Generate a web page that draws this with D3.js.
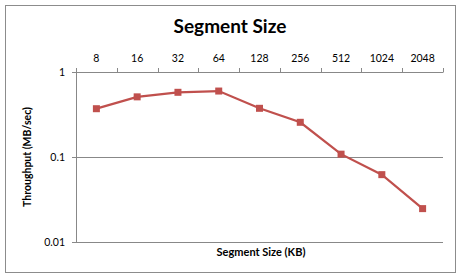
<!DOCTYPE html>
<html>
<head>
<meta charset="utf-8">
<script src="https://cdn.jsdelivr.net/npm/d3@7"></script>
<style>
  body { margin: 0; background: #fff; }
  text { font-family: Lato, "Open Sans", sans-serif; fill: #000; }
</style>
</head>
<body>
<div id="chart"></div>
<script>
// chart data
var sizes = ["8", "16", "32", "64", "128", "256", "512", "1024", "2048"];
var throughput = [0.37, 0.51, 0.577, 0.597, 0.374, 0.256, 0.108, 0.062, 0.0247];
var yTicks = [1, 0.1, 0.01];

var W = 463, H = 279;
var margin = { top: 72, right: 20, bottom: 37, left: 76 },
    width = 443 - margin.left,
    height = 242 - margin.top;

var svg = d3.select("#chart").append("svg")
    .attr("width", W)
    .attr("height", H);

// outer frame
svg.append("rect")
    .attr("x", 5.5).attr("y", 5.5)
    .attr("width", 450).attr("height", 267)
    .attr("fill", "#fff")
    .attr("stroke", "#8c8c8c");

var g = svg.append("g")
    .attr("transform", "translate(" + margin.left + "," + margin.top + ")");

var x = d3.scaleBand()
    .domain(sizes)
    .range([0, width]);

var y = d3.scaleLog()
    .domain([0.01, 1])
    .range([height, 0]);

// horizontal gridlines
g.selectAll(".grid")
    .data(yTicks)
    .enter().append("line")
    .attr("x1", 0).attr("x2", width)
    .attr("y1", d => Math.round(y(d)) + 0.5)
    .attr("y2", d => Math.round(y(d)) + 0.5)
    .attr("stroke", "#888");

// top category axis
var xAxis = g.append("g")
    .call(d3.axisTop(x).tickSize(0).tickPadding(10));
xAxis.select(".domain").remove();
xAxis.selectAll("text")
    .style("font-size", "10.5px")
    .style("font-family", "Lato, 'Open Sans', sans-serif");

// category dividers (tick marks above top line)
var edges = sizes.map(s => x(s)).concat([width]);
g.selectAll(".xtick")
    .data(edges)
    .enter().append("line")
    .attr("x1", d => Math.round(d) + 0.5).attr("x2", d => Math.round(d) + 0.5)
    .attr("y1", 0.5).attr("y2", -4)
    .attr("stroke", "#888");

// left axis
var yAxis = g.append("g")
    .call(d3.axisLeft(y).tickValues(yTicks).tickSize(4).tickPadding(7).tickFormat(d => d));
yAxis.select(".domain")
    .attr("d", "M0.5," + (height + 0.5) + "V0.5")
    .attr("stroke", "#888");
yAxis.selectAll(".tick line").attr("stroke", "#888");
yAxis.selectAll("text")
    .style("font-size", "10.5px")
    .style("font-family", "Lato, 'Open Sans', sans-serif");

// line
var line = d3.line()
    .x((d, i) => x(sizes[i]) + x.bandwidth() / 2)
    .y(d => y(d));

g.append("path")
    .datum(throughput)
    .attr("fill", "none")
    .attr("stroke", "#c0504d")
    .attr("stroke-width", 2.25)
    .attr("d", line);

g.selectAll(".marker")
    .data(throughput)
    .enter().append("rect")
    .attr("x", (d, i) => x(sizes[i]) + x.bandwidth() / 2 - 3.5)
    .attr("y", d => y(d) - 3.5)
    .attr("width", 7)
    .attr("height", 7)
    .attr("fill", "#c0504d");

// Chart Title
svg.append("text")
    .attr("x", 230)
    .attr("y", 33)
    .attr("text-anchor", "middle")
    .style("font-size", "19px")
    .style("font-weight", "bold")
    .text("Segment Size");

// X Axis Label
svg.append("text")
    .attr("x", 261)
    .attr("y", 256)
    .attr("text-anchor", "middle")
    .style("font-size", "11px")
    .style("font-weight", "bold")
    .text("Segment Size (KB)");

// Y Axis Label
svg.append("text")
    .attr("transform", "translate(31," + (margin.top + height / 2) + ") rotate(-90)")
    .attr("text-anchor", "middle")
    .style("font-size", "10.5px")
    .style("font-weight", "bold")
    .text("Throughput (MB/sec)");
</script>
</body>
</html>
